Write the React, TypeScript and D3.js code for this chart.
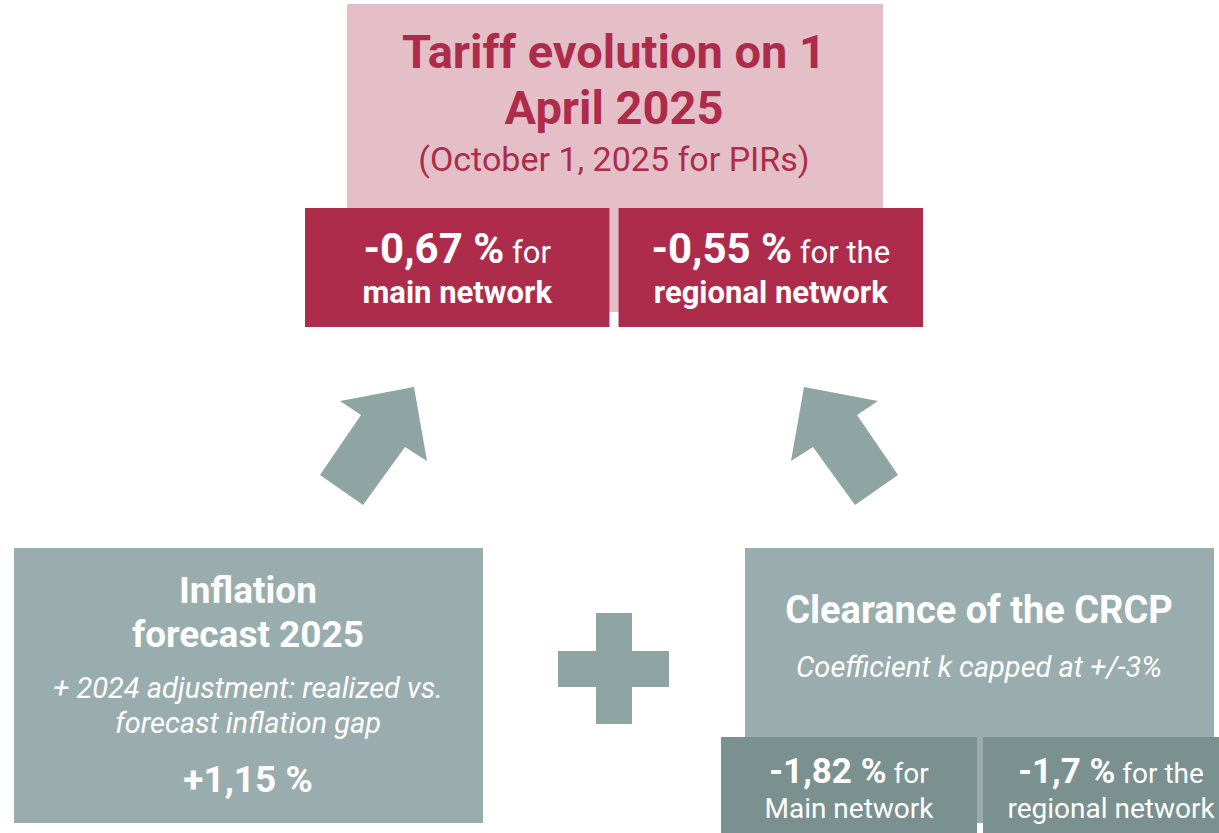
import React, { useEffect, useRef } from 'react'
import * as d3 from 'd3'

// values shown in the infographic (percent)
const tariffLabels = ['main network', 'regional network']
const tariffValues = [-0.67, -0.55]
const crcpLabels = ['Main network', 'regional network']
const crcpValues = [-1.82, -1.7]
const inflationValue = 1.15

const titleLines = ['Tariff evolution on 1', 'April 2025']
const subtitle = '(October 1, 2025 for PIRs)'
const inflationTitle = ['Inflation', 'forecast 2025']
const inflationNote = ['+ 2024 adjustment: realized vs.', 'forecast inflation gap']
const crcpTitle = 'Clearance of the CRCP'
const crcpNote = 'Coefficient k capped at +/-3%'

const W = 1219
const H = 833
const FONT = 'Roboto, "Open Sans", sans-serif'

const C = {
  pink: '#e4bfc7',
  red: '#ae2c4b',
  grey: '#9aadae',
  dark: '#7a918f',
  arrow: '#8fa5a4',
}

const loc = d3.formatLocale({ decimal: ',', thousands: ' ', grouping: [3], currency: ['', '%'], minus: '-' })
const pct = loc.format('.2~f')
const pctSigned = loc.format('+.2~f')

export default function App() {
  const svgRef = useRef<SVGSVGElement>(null)

  useEffect(() => {
    document.body.style.margin = '0'
    const svg = d3.select(svgRef.current)
    svg.selectAll('*').remove()
    svg.style('font-family', FONT)

    // ---- top block
    svg.append('rect').attr('x', 347).attr('y', 4).attr('width', 536).attr('height', 308).attr('fill', C.pink)

    svg.selectAll('text.title')
      .data(titleLines)
      .enter()
      .append('text')
      .attr('class', 'title')
      .attr('x', 614)
      .attr('y', (d, i) => 68 + i * 56)
      .attr('text-anchor', 'middle')
      .attr('font-weight', 700)
      .attr('font-size', 47)
      .attr('fill', C.red)
      .text(d => d)

    svg.append('text')
      .attr('x', 614).attr('y', 171)
      .attr('text-anchor', 'middle')
      .attr('font-size', 34)
      .attr('fill', C.red)
      .text(subtitle)

    const tx = d3.scaleBand().domain(tariffLabels).range([305, 923]).paddingInner(0.029)

    const tg = svg.selectAll('g.tariff')
      .data(tariffLabels.map((l, i) => ({ label: l, value: tariffValues[i] })))
      .enter()
      .append('g')
      .attr('class', 'tariff')
      .attr('transform', d => `translate(${tx(d.label)},208)`)

    tg.append('rect').attr('width', tx.bandwidth()).attr('height', 119).attr('fill', C.red)

    const t1 = tg.append('text')
      .attr('x', tx.bandwidth() / 2).attr('y', 55)
      .attr('text-anchor', 'middle').attr('fill', '#fff')
    t1.append('tspan').attr('font-weight', 700).attr('font-size', 42).text(d => `${pct(d.value)} %`)
    t1.append('tspan').attr('font-size', 31).text((d, i) => (i === 0 ? ' for' : ' for the'))

    tg.append('text')
      .attr('x', tx.bandwidth() / 2).attr('y', 95)
      .attr('text-anchor', 'middle').attr('fill', '#fff')
      .attr('font-weight', 700).attr('font-size', 31)
      .text(d => d.label)

    // ---- arrows
    const arrowPts: [number, number][] = [
      [414, 387], [427, 461], [405, 447], [363, 505], [320, 475], [361, 415], [340, 401],
    ]
    const line = d3.line().curve(d3.curveLinearClosed)
    svg.append('path').attr('d', line(arrowPts)).attr('fill', C.arrow)
    svg.append('path').attr('d', line(arrowPts))
      .attr('transform', `translate(${609 * 2},0) scale(-1,1)`)
      .attr('fill', C.arrow)

    // ---- plus sign
    svg.append('rect').attr('x', 596).attr('y', 613).attr('width', 36).attr('height', 111).attr('fill', C.arrow)
    svg.append('rect').attr('x', 558).attr('y', 651).attr('width', 111).attr('height', 36).attr('fill', C.arrow)

    // ---- inflation block
    svg.append('rect').attr('x', 14).attr('y', 548).attr('width', 469).attr('height', 275).attr('fill', C.grey)

    svg.selectAll('text.infl')
      .data(inflationTitle)
      .enter()
      .append('text')
      .attr('class', 'infl')
      .attr('x', 248).attr('y', (d, i) => 603 + i * 44)
      .attr('text-anchor', 'middle').attr('fill', '#fff')
      .attr('font-weight', 700).attr('font-size', 37)
      .text(d => d)

    svg.selectAll('text.inflNote')
      .data(inflationNote)
      .enter()
      .append('text')
      .attr('class', 'inflNote')
      .attr('x', 248).attr('y', (d, i) => 698 + i * 35)
      .attr('text-anchor', 'middle').attr('fill', '#fff')
      .attr('font-style', 'italic').attr('font-size', 29)
      .text(d => d)

    svg.append('text')
      .attr('x', 248).attr('y', 792)
      .attr('text-anchor', 'middle').attr('fill', '#fff')
      .attr('font-weight', 700).attr('font-size', 37)
      .text(`${pctSigned(inflationValue)} %`)

    // ---- CRCP block
    svg.append('rect').attr('x', 745).attr('y', 548).attr('width', 469).attr('height', 275).attr('fill', C.grey)

    svg.append('text')
      .attr('x', 979).attr('y', 623)
      .attr('text-anchor', 'middle').attr('fill', '#fff')
      .attr('font-weight', 700).attr('font-size', 38)
      .text(crcpTitle)

    svg.append('text')
      .attr('x', 979).attr('y', 677)
      .attr('text-anchor', 'middle').attr('fill', '#fff')
      .attr('font-style', 'italic').attr('font-size', 29)
      .text(crcpNote)

    const cx = d3.scaleBand().domain(crcpLabels).range([721, 1239]).paddingInner(0.023)

    const cg = svg.selectAll('g.crcp')
      .data(crcpLabels.map((l, i) => ({ label: l, value: crcpValues[i] })))
      .enter()
      .append('g')
      .attr('class', 'crcp')
      .attr('transform', d => `translate(${cx(d.label)},737)`)

    cg.append('rect').attr('width', cx.bandwidth()).attr('height', 100).attr('fill', C.dark)

    const c1 = cg.append('text')
      .attr('x', cx.bandwidth() / 2).attr('y', 46)
      .attr('text-anchor', 'middle').attr('fill', '#fff')
    c1.append('tspan').attr('font-weight', 700).attr('font-size', 35).text(d => `${pct(d.value)} %`)
    c1.append('tspan').attr('font-size', 28).text((d, i) => (i === 0 ? ' for' : ' for the'))

    cg.append('text')
      .attr('x', cx.bandwidth() / 2).attr('y', 81)
      .attr('text-anchor', 'middle').attr('fill', '#fff')
      .attr('font-size', 28)
      .text(d => d.label)
  }, [])

  return (
    <div style={{ width: W, height: H, background: '#fff' }}>
      <svg ref={svgRef} width={W} height={H}></svg>
    </div>
  )
}
